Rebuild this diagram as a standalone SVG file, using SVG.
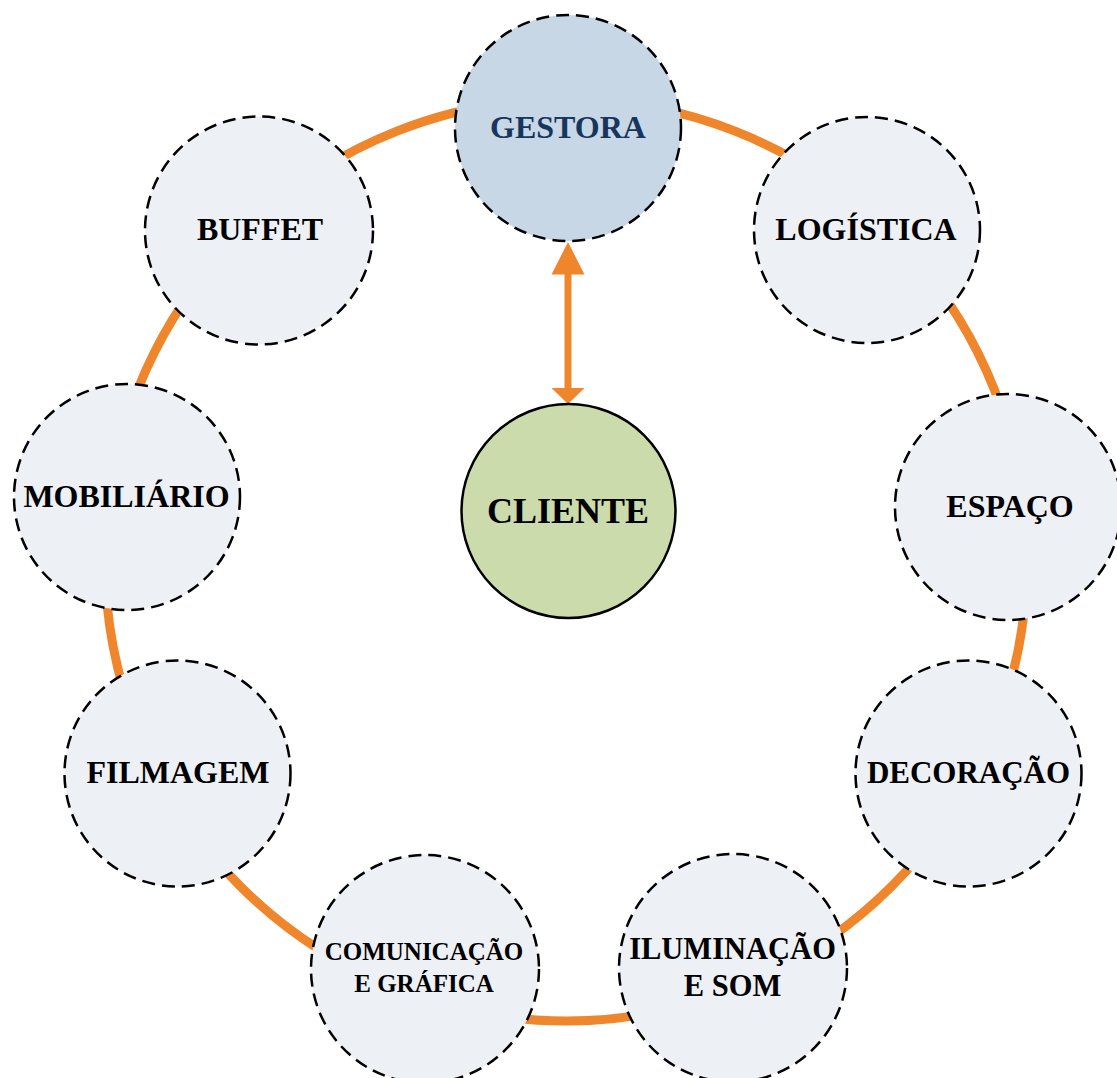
<svg xmlns="http://www.w3.org/2000/svg" width="1117" height="1078" viewBox="0 0 1117 1078">
  <style>
    .node { fill: #EDF0F5; stroke: #000; stroke-width: 2.5; stroke-dasharray: 13 7; }
    .lbl { font-family: "Liberation Serif", "Times New Roman", serif; font-weight: bold; font-size: 32px; fill: #000; text-anchor: middle; }
  </style>
  <rect width="1117" height="1078" fill="#fff"/>
  <g id="connectors">
    <circle cx="566" cy="560" r="461" fill="none" stroke="#F0862B" stroke-width="9"/>
    <rect x="564.5" y="272" width="7" height="118" fill="#F0862B"/>
    <polygon points="568,242 584.5,274.5 551.5,274.5" fill="#F0862B"/>
    <polygon points="568,404 584.5,388 551.5,388" fill="#F0862B"/>
  </g>
  <g id="node-gestora">
    <circle cx="568" cy="128" r="113" class="node" style="fill:#C8D7E6"/>
    <text x="568" y="138" class="lbl" style="fill:#17365D">GESTORA</text>
  </g>
  <g id="node-logistica">
    <circle cx="867" cy="230" r="113" class="node"/>
    <text x="866" y="240" class="lbl">LOGÍSTICA</text>
  </g>
  <g id="node-espaco">
    <circle cx="1008" cy="507" r="113" class="node"/>
    <text x="1010" y="517" class="lbl">ESPAÇO</text>
  </g>
  <g id="node-decoracao">
    <circle cx="968.5" cy="773.5" r="113" class="node"/>
    <text x="968.5" y="783" class="lbl" style="font-size:31px">DECORAÇÃO</text>
  </g>
  <g id="node-iluminacao">
    <circle cx="733" cy="968" r="114" class="node"/>
    <text x="732.5" y="959" class="lbl" style="font-size:30.5px">ILUMINAÇÃO</text>
    <text x="732.5" y="996" class="lbl" style="font-size:30.5px">E SOM</text>
  </g>
  <g id="node-comunicacao">
    <circle cx="425" cy="969" r="114" class="node"/>
    <text x="424" y="960" class="lbl" style="font-size:25px">COMUNICAÇÃO</text>
    <text x="424" y="992" class="lbl" style="font-size:25px">E GRÁFICA</text>
  </g>
  <g id="node-filmagem">
    <circle cx="177.5" cy="773.5" r="113" class="node"/>
    <text x="178" y="783" class="lbl">FILMAGEM</text>
  </g>
  <g id="node-mobiliario">
    <circle cx="127" cy="497" r="113" class="node"/>
    <text x="126.5" y="507" class="lbl">MOBILIÁRIO</text>
  </g>
  <g id="node-buffet">
    <circle cx="259" cy="230.5" r="114" class="node"/>
    <text x="260" y="240" class="lbl">BUFFET</text>
  </g>
  <g id="node-cliente">
    <circle cx="568.5" cy="511" r="107" fill="#CCDBAB" stroke="#000" stroke-width="2.5"/>
    <text x="568" y="523" class="lbl" style="font-size:36px">CLIENTE</text>
  </g>
</svg>
